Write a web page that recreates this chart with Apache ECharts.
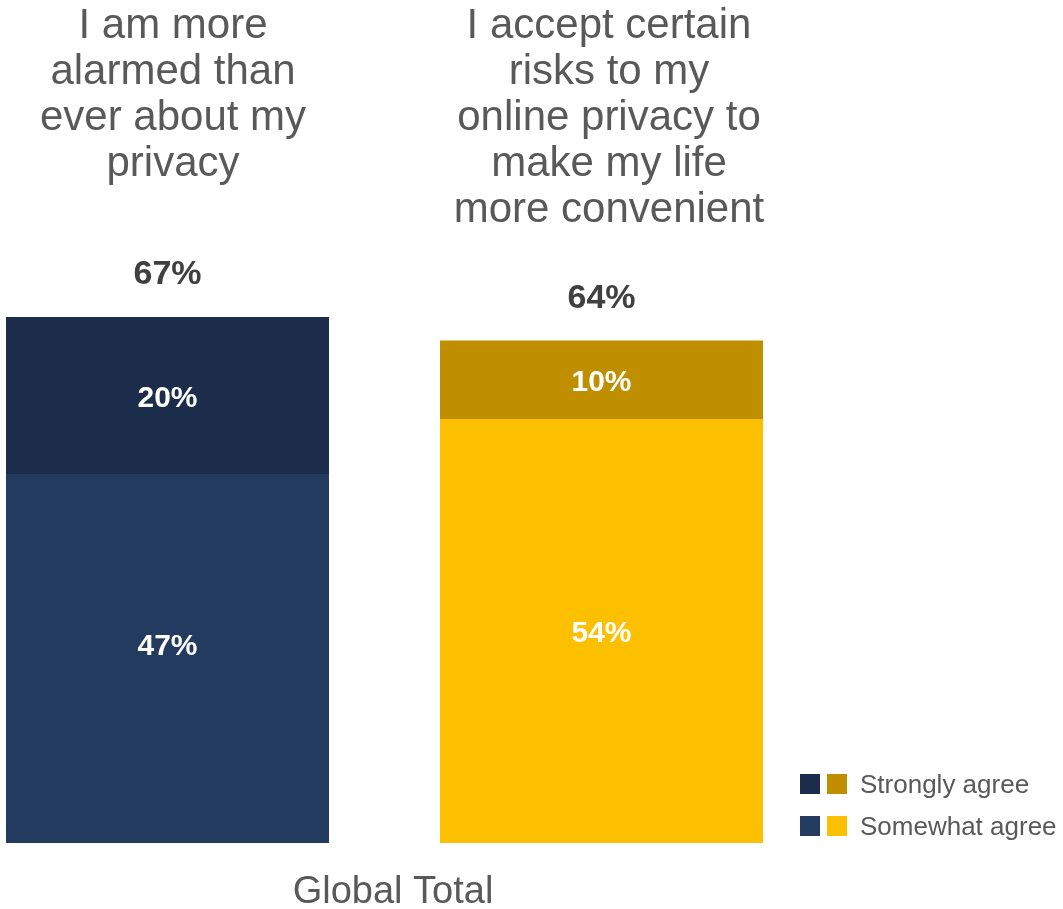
<!DOCTYPE html>
<html>
<head>
<meta charset="utf-8">
<script src="https://cdn.jsdelivr.net/npm/echarts@6/dist/echarts.min.js"></script>
<style>html,body{margin:0;padding:0;background:#fff;}#c{width:1063px;height:909px;}</style>
</head>
<body>
<div id="c"></div>
<script>
var categories = ["I am more\nalarmed than\never about my\nprivacy", "I accept certain\nrisks to my\nonline privacy to\nmake my life\nmore convenient"];
var seriesNames = ["Strongly agree", "Somewhat agree"];
var somewhatAgree = [47, 54];
var stronglyAgree = [20, 10];
var totals = [67, 64];
var groupLabel = "Global Total";

var FONT = "'Liberation Sans', Arial, sans-serif";
var strongColors = ['#1b2d4a', '#c08f00'];
var someColors = ['#233b5f', '#fdc000'];

var chart = echarts.init(document.getElementById('c'), null, {renderer: 'canvas'});
chart.setOption({
  animation: false,
  backgroundColor: '#ffffff',
  grid: {left: 167.5, right: 461.5, top: 58, bottom: 66},
  xAxis: {
    type: 'category', data: categories, boundaryGap: false,
    axisLine: {show: false}, axisTick: {show: false}, axisLabel: {show: false}, splitLine: {show: false}
  },
  yAxis: {type: 'value', min: 0, max: 100, show: false, splitLine: {show: false}},
  series: [
    {
      name: seriesNames[1], type: 'bar', stack: 'a', barWidth: 323, barGap: '-100%',
      data: somewhatAgree.map(function (v, i) {
        return {value: v, itemStyle: {color: someColors[i]},
          label: {offset: i === 0 ? [0, -12] : [0, 3]}};
      }),
      label: {show: true, position: 'inside', color: '#ffffff', fontFamily: FONT, fontWeight: 'bold', fontSize: 30,
        formatter: function (p) { return p.value + '%'; }}
    },
    {
      name: seriesNames[0], type: 'bar', stack: 'a', barWidth: 323, barGap: '-100%',
      data: stronglyAgree.map(function (v, i) { return {value: v, itemStyle: {color: strongColors[i]}}; }),
      label: {show: true, position: 'inside', offset: [0, 3], color: '#ffffff', fontFamily: FONT, fontWeight: 'bold', fontSize: 30,
        formatter: function (p) { return p.value + '%'; }}
    },
    {
      name: 'Total', type: 'bar', barWidth: 323, barGap: '-100%', silent: true, z: 1,
      itemStyle: {color: 'rgba(0,0,0,0)'},
      data: totals,
      label: {show: true, position: 'top', distance: 25, color: '#404040', fontFamily: FONT, fontWeight: 'bold', fontSize: 34,
        formatter: function (p) { return p.value + '%'; }}
    }
  ],
  graphic: [
    {type: 'text', x: 173, y: 3, style: {text: categories[0], font: '42px ' + FONT, lineHeight: 46, fill: '#595959', align: 'center', verticalAlign: 'top'}},
    {type: 'text', x: 609, y: 3, style: {text: categories[1], font: '42px ' + FONT, lineHeight: 46, fill: '#595959', align: 'center', verticalAlign: 'top'}},
    {type: 'text', x: 393, y: 893, style: {text: groupLabel, font: '38px ' + FONT, fill: '#595959', align: 'center', verticalAlign: 'middle'}},
    {type: 'rect', shape: {x: 800, y: 774, width: 20, height: 20}, style: {fill: strongColors[0]}},
    {type: 'rect', shape: {x: 827, y: 774, width: 20, height: 20}, style: {fill: strongColors[1]}},
    {type: 'rect', shape: {x: 800, y: 816, width: 20, height: 20}, style: {fill: someColors[0]}},
    {type: 'rect', shape: {x: 827, y: 816, width: 20, height: 20}, style: {fill: someColors[1]}},
    {type: 'text', x: 860, y: 786, style: {text: seriesNames[0], font: '26px ' + FONT, fill: '#595959', align: 'left', verticalAlign: 'middle'}},
    {type: 'text', x: 860, y: 828, style: {text: seriesNames[1], font: '26px ' + FONT, fill: '#595959', align: 'left', verticalAlign: 'middle'}}
  ]
});
</script>
</body>
</html>
